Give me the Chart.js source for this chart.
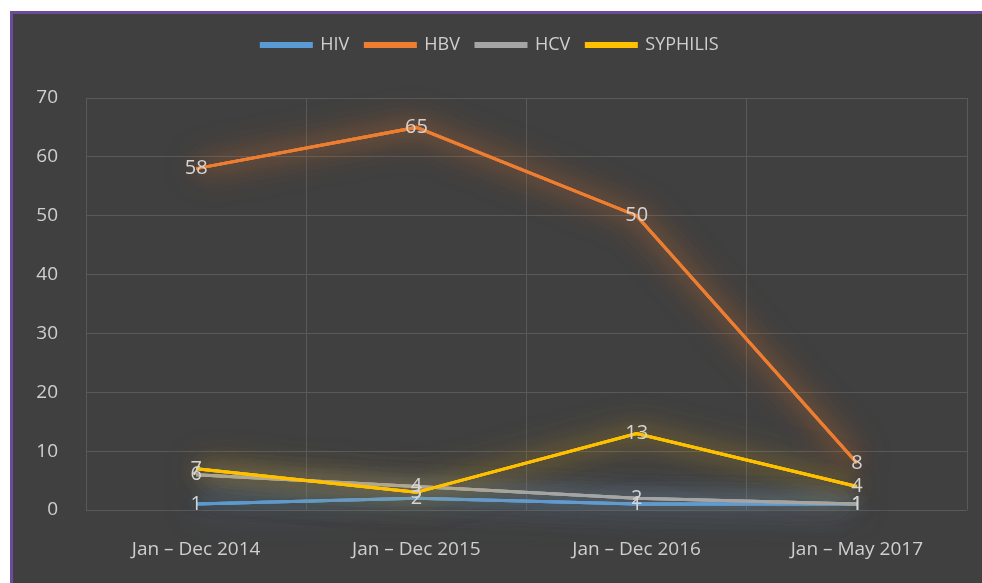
<!DOCTYPE html>
<html>
<head>
<meta charset="utf-8">
<script src="https://cdn.jsdelivr.net/npm/chart.js@4.4.1/dist/chart.umd.min.js"></script>
<style>
  body { margin: 0; background: #ffffff; }
  #frame {
    position: absolute; left: 10px; top: 11px; width: 972px; height: 572px;
    box-sizing: border-box; border-left: 3px solid #6e4a9c; border-top: 3px solid #6e4a9c;
    background: #404040;
  }
  canvas { display: block; }
</style>
</head>
<body>
<div id="frame"><canvas id="myChart" width="969" height="569"></canvas></div>
<script>
const categories = ['Jan \u2013 Dec 2014', 'Jan \u2013 Dec 2015', 'Jan \u2013 Dec 2016', 'Jan \u2013 May 2017'];
const hiv = [1, 2, 1, 1];
const hbv = [58, 65, 50, 8];
const hcv = [6, 4, 2, 1];
const syphilis = [7, 3, 13, 4];
const yTicks = [0, 10, 20, 30, 40, 50, 60, 70];

const textColor = '#cfcfcf';
const fontFamily = "'Open Sans', 'Noto Sans', sans-serif";

// soft glow under each line, like the excel effect (a few blurred passes)
const glow = {
  id: 'glow',
  beforeDatasetDraw(chart, args) {
    const ds = chart.data.datasets[args.index];
    const ctx = chart.ctx;
    ctx.save();
    ctx.shadowColor = ds.glowColor;
    ctx.shadowBlur = 36;
    args.meta.dataset.draw(ctx, chart.chartArea);
    args.meta.dataset.draw(ctx, chart.chartArea);
    ctx.shadowBlur = 20;
  },
  afterDatasetDraw(chart) {
    chart.ctx.restore();
  }
};

// value labels centred on the points
const valueLabels = {
  id: 'valueLabels',
  afterDatasetsDraw(chart) {
    const ctx = chart.ctx;
    ctx.save();
    ctx.font = '20px ' + fontFamily;
    ctx.fillStyle = '#d4d4d4';
    ctx.textAlign = 'center';
    ctx.textBaseline = 'middle';
    chart.data.datasets.forEach((ds, i) => {
      chart.getDatasetMeta(i).data.forEach((pt, j) => {
        ctx.fillText(ds.data[j], pt.x, pt.y);
      });
    });
    ctx.restore();
  }
};

// make room under the legend
const legendSpace = {
  id: 'legendSpace',
  afterInit(chart) {
    const lg = chart.legend;
    const fit = lg.fit.bind(lg);
    lg.fit = function () { fit(); this.height = 78; };
  }
};

const ctx = document.getElementById('myChart').getContext('2d');
const myChart = new Chart(ctx, {
  type: 'line',
  data: {
    labels: categories,
    datasets: [
      { label: 'HIV', data: hiv, borderColor: '#5b9bd5', backgroundColor: '#5b9bd5', glowColor: 'rgba(91,155,213,0.7)', order: 4 },
      { label: 'HBV', data: hbv, borderColor: '#ed7d31', backgroundColor: '#ed7d31', glowColor: 'rgba(237,125,49,0.7)', order: 3 },
      { label: 'HCV', data: hcv, borderColor: '#a5a5a5', backgroundColor: '#a5a5a5', glowColor: 'rgba(165,165,165,0.55)', order: 2 },
      { label: 'SYPHILIS', data: syphilis, borderColor: '#ffc000', backgroundColor: '#ffc000', glowColor: 'rgba(255,192,0,0.55)', order: 1 }
    ].map(d => Object.assign(d, { borderWidth: 3, pointRadius: 0, tension: 0 }))
  },
  options: {
    responsive: false,
    animation: false,
    layout: { padding: { top: 6, right: 15, left: 0, bottom: 0 } },
    scales: {
      x: {
        offset: true,
        grid: { offset: true, color: '#595959', lineWidth: 1, drawTicks: false },
        border: { display: false },
        ticks: { color: textColor, font: { size: 19, family: fontFamily }, padding: 28 },
        afterFit(scale) { scale.height = 73; }
      },
      y: {
        min: 0,
        max: 70,
        afterBuildTicks(scale) { scale.ticks = yTicks.map(v => ({ value: v })); },
        grid: { color: '#595959', lineWidth: 1, drawTicks: false },
        border: { display: false },
        ticks: { color: textColor, font: { size: 19, family: fontFamily }, padding: 28 },
        afterFit(scale) { scale.width = 73; }
      }
    },
    plugins: {
      legend: {
        display: true,
        position: 'top',
        labels: {
          color: textColor,
          font: { size: 18, family: fontFamily },
          boxWidth: 50,
          boxHeight: 3,
          padding: 16,
          sort: (a, b) => a.datasetIndex - b.datasetIndex
        }
      },
      tooltip: { enabled: false }
    }
  },
  plugins: [glow, valueLabels, legendSpace]
});
</script>
</body>
</html>
